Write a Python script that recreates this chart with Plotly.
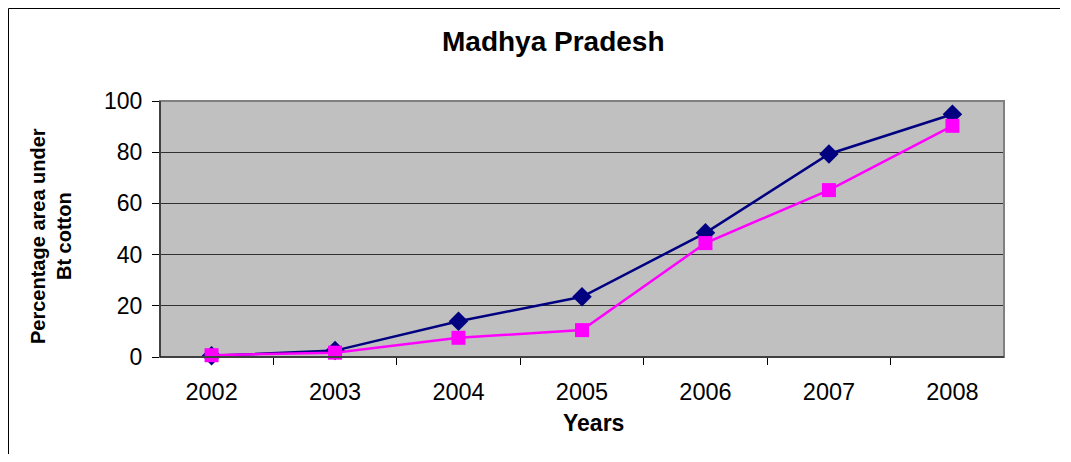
import plotly.graph_objects as go

years = ["2002", "2003", "2004", "2005", "2006", "2007", "2008"]
series_a = [0.5, 2.5, 14.0, 23.5, 48.5, 79.3, 94.8]
series_b = [0.7, 1.7, 7.5, 10.5, 44.5, 65.2, 90.3]
y_ticks = [0, 20, 40, 60, 80, 100]

FONT = "Arial, 'Liberation Sans', sans-serif"
OFF = 8  # page body margin
W, H = 1071 - 2 * OFF, 462 - 2 * OFF
# plot area in screen pixels: x 160..1004, y 101..357
L, T = 160 - OFF, 101 - OFF
R = W - (1004 - OFF)
B = H - (357 - OFF)
pw, ph = W - L - R, H - T - B

def px(x):
    return (x - OFF - L) / pw

def py(y):
    return (H - B - (y - OFF)) / ph

fig = go.Figure()
fig.add_trace(go.Scatter(
    x=years, y=series_a, mode="lines+markers",
    line=dict(color="#000080", width=2.5),
    marker=dict(symbol="diamond", size=15, color="#000080"),
    showlegend=False, cliponaxis=False))
fig.add_trace(go.Scatter(
    x=years, y=series_b, mode="lines+markers",
    line=dict(color="#FF00FF", width=2.5),
    marker=dict(symbol="square", size=14, color="#FF00FF"),
    showlegend=False, cliponaxis=False))

fig.update_layout(
    width=W, height=H,
    margin=dict(l=L, r=R, t=T, b=B, pad=0),
    paper_bgcolor="white", plot_bgcolor="#C0C0C0",
    font=dict(family=FONT, color="black", size=23),
    xaxis=dict(type="category", showgrid=False, showline=True, linecolor="black",
               linewidth=1, ticks="outside", tickson="boundaries", ticklen=7,
               tickcolor="black", tickfont=dict(size=23.5, family=FONT), zeroline=False,
               ticklabelstandoff=14),
    yaxis=dict(range=[0, 100], tickvals=y_ticks, showgrid=True, gridcolor="#303030",
               gridwidth=1, showline=True, linecolor="black", linewidth=1,
               ticks="outside", ticklen=7, tickcolor="black",
               tickfont=dict(size=23, family=FONT), zeroline=False,
               ticklabelstandoff=5),
    shapes=[
        dict(type="rect", xref="paper", yref="paper", x0=0, x1=1, y0=0, y1=1,
             line=dict(color="#808080", width=2), layer="above"),
        dict(type="line", xref="paper", yref="paper", x0=0, x1=0, y0=0, y1=1,
             line=dict(color="black", width=1), layer="above"),
        dict(type="line", xref="paper", yref="paper", x0=0, x1=1, y0=0, y1=0,
             line=dict(color="black", width=1), layer="above"),
        dict(type="line", xref="paper", yref="paper", x0=px(8.5), x1=px(8.5),
             y0=py(470), y1=py(8.5), line=dict(color="black", width=1), layer="below"),
        dict(type="line", xref="paper", yref="paper", x0=px(8.5), x1=px(1060),
             y0=py(8.5), y1=py(8.5), line=dict(color="black", width=1), layer="below"),
    ],
    annotations=[
        dict(text="<b>Madhya Pradesh</b>", xref="paper", yref="paper",
             x=px(553), y=py(41), showarrow=False, font=dict(size=28, family=FONT),
             xanchor="center", yanchor="middle"),
        dict(text="<b>Years</b>", xref="paper", yref="paper",
             x=px(593), y=py(423), showarrow=False, font=dict(size=23, family=FONT),
             xanchor="center", yanchor="middle"),
        dict(text="<b>Percentage area under<br>Bt cotton</b>", xref="paper", yref="paper",
             x=px(51), y=py(236), showarrow=False, textangle=-90,
             font=dict(size=20, family=FONT), xanchor="center", yanchor="middle"),
    ],
)

fig.write_html("out.html")
